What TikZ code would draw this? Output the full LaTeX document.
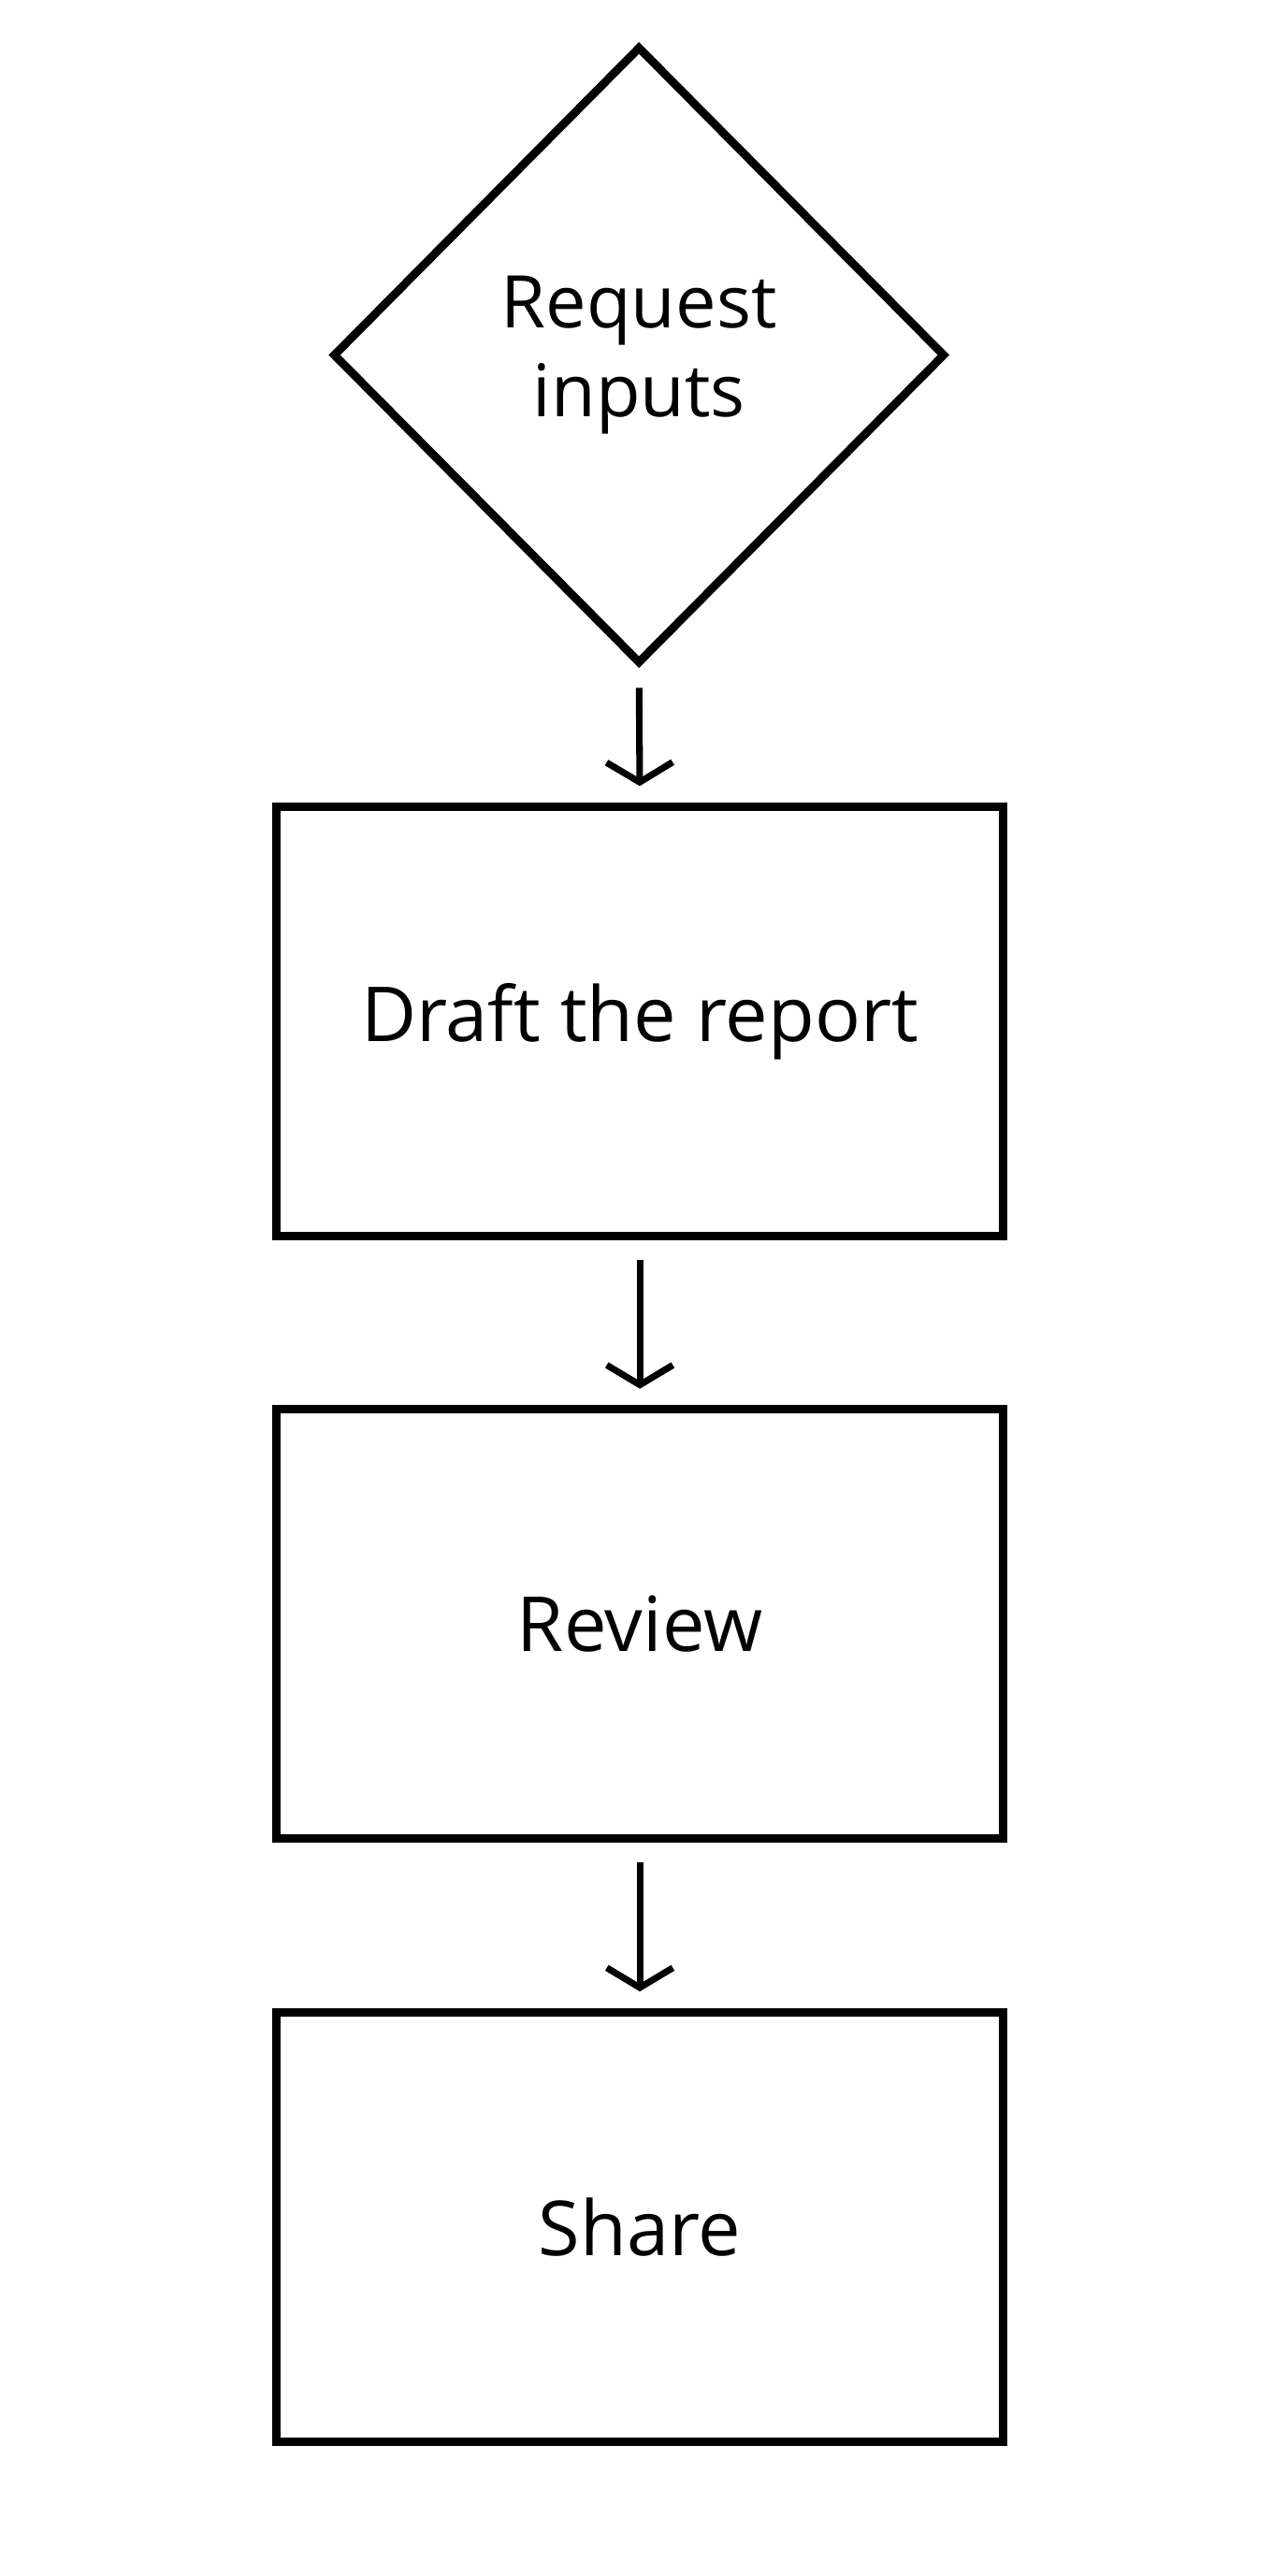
\documentclass[tikz,border=0pt]{standalone}
\usepackage{fontspec}
\setmainfont{Open Sans}
\usetikzlibrary{arrows.meta,positioning,shapes.geometric}

\begin{document}
\begin{tikzpicture}[
    x=1pt, y=1pt,
    stage/.style={draw, line width=5pt, rectangle, minimum width=440pt, minimum height=260pt,
        font=\fontsize{46}{58}\selectfont},
    decide/.style={draw, line width=5pt, diamond, minimum width=371pt, minimum height=374pt,
        inner sep=0, align=center, font=\fontsize{44}{54}\selectfont},
    flow/.style={line width=4pt, -{Straight Barb[length=12pt, width=40pt]}, shorten <=12pt, shorten >=10pt}]
\useasboundingbox (0,0) rectangle (770,-1560);
\node[decide] (inputs) at (387,-215) {Request\\inputs};
\node[stage] (draft)  at (387.5,-618.5) {Draft the report};
\node[stage] (review) at (387.5,-983.5) {Review};
\node[stage] (share)  at (387.5,-1348.5) {Share};
% connectors
\draw[flow] (inputs.south) -- (draft.north);
\draw[flow] (draft.south) -- (review.north);
\draw[flow] (review.south) -- (share.north);
\end{tikzpicture}
\end{document}
